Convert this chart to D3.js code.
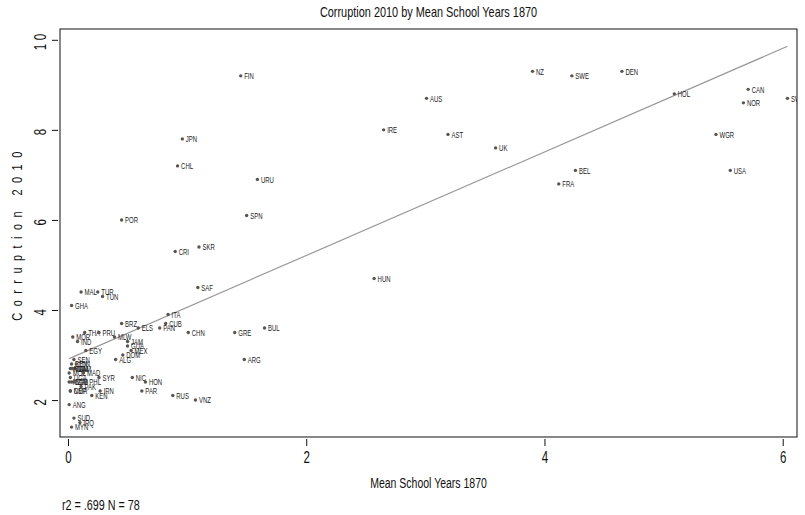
<!DOCTYPE html>
<html>
<head>
<meta charset="utf-8">
<script src="https://cdn.jsdelivr.net/npm/d3@7"></script>
<style>
  body { margin: 0; background: #fff; }
  svg text { font-family: "Liberation Sans", Arial, sans-serif; }
</style>
</head>
<body>
<svg id="chart" width="805" height="515"></svg>
<script>
// country codes, mean school years 1870, corruption index 2010
const countries = [
  "FIN", "NZ", "SWE", "DEN", "AUS", "HOL", "CAN", "NOR", "SWZ", "IRE",
  "AST", "UK", "WGR", "JPN", "CHL", "URU", "BEL", "USA", "FRA", "SPN",
  "POR", "SKR", "CRI", "HUN", "SAF", "MAL", "TUR", "TUN", "GHA", "ITA",
  "CUB", "PAN", "CHN", "BRZ", "ELS", "BUL", "GRE", "ARG", "THA", "PRU",
  "MOR", "IND", "EGY", "MLW", "JAM", "GUA", "MEX", "DOM", "ALG", "SYR",
  "NIC", "HON", "PAR", "RUS", "VNZ", "IRN", "KEN", "ANG", "SUD", "IRQ",
  "MYN", "SEN", "BEN", "ZAM", "MLI", "TAN", "MOZ", "MAD", "UGA", "BGD",
  "NGA", "ZIM", "PHL", "NEP", "CMR", "PAK", "IDN", "VNM"
];
const schoolYears = [
  1.45, 3.90, 4.23, 4.65, 3.01, 5.09, 5.71, 5.67, 6.04, 2.65,
  3.19, 3.59, 5.44, 0.96, 0.92, 1.59, 4.26, 5.56, 4.12, 1.50,
  0.45, 1.10, 0.90, 2.57, 1.09, 0.11, 0.25, 0.29, 0.03, 0.84,
  0.82, 0.77, 1.01, 0.45, 0.59, 1.65, 1.40, 1.48, 0.14, 0.26,
  0.04, 0.08, 0.15, 0.39, 0.50, 0.50, 0.53, 0.46, 0.40, 0.26,
  0.54, 0.65, 0.62, 0.88, 1.07, 0.27, 0.20, 0.01, 0.05, 0.10,
  0.03, 0.05, 0.03, 0.06, 0.02, 0.04, 0.01, 0.13, 0.02, 0.03,
  0.01, 0.05, 0.15, 0.02, 0.02, 0.11, 0.07, 0.03
];
const corruption = [
  9.2, 9.3, 9.2, 9.3, 8.7, 8.8, 8.9, 8.6, 8.7, 8.0,
  7.9, 7.6, 7.9, 7.8, 7.2, 6.9, 7.1, 7.1, 6.8, 6.1,
  6.0, 5.4, 5.3, 4.7, 4.5, 4.4, 4.4, 4.3, 4.1, 3.9,
  3.7, 3.6, 3.5, 3.7, 3.6, 3.6, 3.5, 2.9, 3.5, 3.5,
  3.4, 3.3, 3.1, 3.4, 3.3, 3.2, 3.1, 3.0, 2.9, 2.5,
  2.5, 2.4, 2.2, 2.1, 2.0, 2.2, 2.1, 1.9, 1.6, 1.5,
  1.4, 2.9, 2.8, 2.7, 2.7, 2.7, 2.6, 2.6, 2.5, 2.4,
  2.4, 2.4, 2.4, 2.2, 2.2, 2.3, 2.8, 2.7
];
const xTicks = [0, 2, 4, 6];
const yTicks = [2, 4, 6, 8, 10];
// fitted line as shown on the chart
const fitIntercept = 2.91;
const fitSlope = 1.15;
const titleText = "Corruption 2010 by Mean School Years 1870";
const xTitle = "Mean School Years 1870";
const yTitle = "Corruption 2010";
const noteText = "r2 = .699  N = 78";

const svg = d3.select("#chart");
const plot = { left: 60, right: 797, top: 29, bottom: 437 };
const ink = "#111";

const x = d3.scaleLinear().domain([-0.067, 6.12]).range([plot.left, plot.right]);
const y = d3.scaleLinear().domain([1.18, 10.24]).range([plot.bottom, plot.top]);

// narrow look (no Arial Narrow available) -> squeeze text horizontally
function narrowText(g, px, py, size, sx, txt) {
  return g.append("text")
    .attr("transform", `translate(${px},${py}) scale(${sx},1)`)
    .attr("font-size", size)
    .attr("fill", ink)
    .text(txt);
}

// title
narrowText(svg, (plot.left + plot.right) / 2, 17, 14, 0.78, titleText)
  .attr("text-anchor", "middle");

// fitted line
const xMin = d3.min(schoolYears), xMax = d3.max(schoolYears);
svg.append("line")
  .attr("x1", x(xMin)).attr("y1", y(fitIntercept + fitSlope * xMin))
  .attr("x2", x(xMax)).attr("y2", y(fitIntercept + fitSlope * xMax))
  .attr("stroke", "#999")
  .attr("stroke-width", 1.2);

// points + labels
svg.append("clipPath").attr("id", "plotclip")
  .append("rect")
  .attr("x", plot.left).attr("y", plot.top)
  .attr("width", plot.right - plot.left).attr("height", plot.bottom - plot.top);

const pts = svg.append("g").attr("clip-path", "url(#plotclip)")
  .selectAll("g")
  .data(countries.map((c, i) => ({ c, sx: schoolYears[i], cy: corruption[i] })))
  .enter()
  .append("g")
  .attr("transform", d => `translate(${x(d.sx)},${y(d.cy)})`);

pts.append("circle")
  .attr("r", 1.7)
  .attr("fill", "#555");

pts.append("text")
  .attr("transform", "translate(3.5,3.4) scale(0.63,1)")
  .attr("font-size", 9.5)
  .attr("fill", "#222")
  .text(d => d.c);

// box
svg.append("rect")
  .attr("x", plot.left).attr("y", plot.top)
  .attr("width", plot.right - plot.left).attr("height", plot.bottom - plot.top)
  .attr("fill", "none")
  .attr("stroke", ink)
  .attr("stroke-width", 1);

// x axis
const xAxis = svg.append("g")
  .attr("transform", `translate(0,${plot.bottom + 2})`)
  .call(d3.axisBottom(x).tickValues(xTicks).tickSize(7).tickFormat(d3.format("d")));
xAxis.select(".domain").remove();
xAxis.selectAll("line").attr("stroke", ink);
xAxis.selectAll("text")
  .attr("y", null).attr("dy", null)
  .attr("transform", "translate(0,24) scale(0.72,1)")
  .attr("font-size", 16)
  .attr("fill", ink);

// y axis (rotated labels)
const yAxis = svg.append("g")
  .attr("transform", `translate(${plot.left - 2},0)`)
  .call(d3.axisLeft(y).tickValues(yTicks).tickSize(6).tickFormat(d3.format("d")));
yAxis.select(".domain").remove();
yAxis.selectAll("line").attr("stroke", ink);
yAxis.selectAll("text")
  .attr("x", null).attr("dy", null)
  .attr("text-anchor", "middle")
  .attr("transform", "translate(-12,0) rotate(-90) scale(0.72,1)")
  .attr("font-size", 16)
  .attr("letter-spacing", 5)
  .attr("fill", ink);

// axis titles
narrowText(svg, (plot.left + plot.right) / 2, 488, 14, 0.75, xTitle)
  .attr("text-anchor", "middle");

svg.append("text")
  .attr("transform", `translate(22,${(plot.top + plot.bottom) / 2}) rotate(-90) scale(0.78,1)`)
  .attr("text-anchor", "middle")
  .attr("font-size", 14)
  .attr("letter-spacing", 8.3)
  .attr("fill", ink)
  .text(yTitle);

// note
narrowText(svg, 62, 510, 14, 0.77, noteText);
</script>
</body>
</html>
